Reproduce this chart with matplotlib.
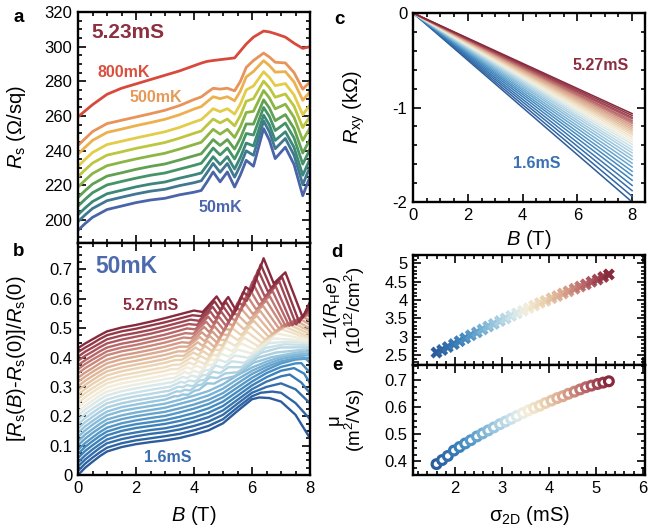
import numpy as np
import matplotlib
matplotlib.use('Agg')
import matplotlib.pyplot as plt
from matplotlib.colors import LinearSegmentedColormap
from matplotlib.ticker import MultipleLocator

plt.rcParams['font.family'] = ['Liberation Sans', 'DejaVu Sans']
plt.rcParams['mathtext.fontset'] = 'custom'
plt.rcParams['mathtext.rm'] = 'Liberation Sans'
plt.rcParams['mathtext.it'] = 'Liberation Sans:italic'
plt.rcParams['mathtext.bf'] = 'Liberation Sans:bold'
plt.rcParams['axes.unicode_minus'] = False

# ---- panel a: Rs(B) at 5.23 mS for several temperatures ----
field_a = [0, 0.25, 0.5, 1, 1.5, 2, 2.5, 3, 3.5, 4, 4.25, 4.45, 4.66, 4.9, 5.15,
           5.4, 5.6, 5.8, 6.05, 6.4, 6.6, 6.8, 7.15, 7.45, 7.75, 8.0]
rs_50mk = [194, 198, 201.5, 206, 208, 210, 211.5, 212.5, 214.5, 216, 217, 222, 227.7, 222,
           227.7, 219, 226, 234.4, 231, 252.7, 246, 235.4, 242, 232, 214, 225]
rs_100mk = [199, 203, 206.6, 211.1, 213.1, 215, 216.6, 217.7, 219.8, 221.5, 222.6, 227.3, 232.6,
            227.5, 232.6, 224.7, 231.6, 239.9, 237.3, 257.1, 250.9, 241.1, 247, 237.4, 220.4, 230.6]
rs_150mk = [203, 207, 210.6, 215.1, 217.1, 219.1, 220.7, 221.9, 224.1, 226, 227.1, 231.6, 236.5,
            232, 236.5, 229.4, 236.1, 244.4, 242.7, 260.5, 254.8, 245.9, 250.9, 241.9, 225.8, 235.2]
rs_200mk = [208, 212, 215.7, 220.2, 222.2, 224.1, 225.8, 227.1, 229.3, 231.5, 232.7, 236.8, 241.5,
            237.5, 241.5, 235.2, 241.7, 249.9, 249, 264.9, 259.7, 251.6, 255.9, 247.3, 232.2, 240.9]
rs_250mk = [213, 217, 220.7, 225.3, 227.2, 229.2, 230.9, 232.3, 234.6, 237, 238.2, 242.1, 246.4,
            243, 246.4, 240.9, 247.2, 255.4, 255.3, 269.3, 264.6, 257.3, 260.8, 252.8, 238.6, 246.5]
rs_300mk = [219, 223, 226.8, 231.3, 233.3, 235.2, 236.9, 238.5, 240.9, 243.5, 244.8, 248.4, 252.3,
            249.5, 252.3, 247.6, 253.8, 262, 262.7, 274.7, 270.4, 264.1, 266.8, 259.2, 245.9, 253.1]
rs_350mk = [225, 229, 232.8, 237.4, 239.3, 241.3, 243, 244.7, 247.2, 250, 251.3, 254.7, 258.2,
            256, 258.2, 254.3, 260.3, 268.5, 270, 280.1, 276.3, 270.8, 272.7, 265.7, 253.3, 259.7]
rs_400mk = [231, 235, 238.9, 243.5, 245.4, 247.3, 249.1, 250.9, 253.4, 256.5, 257.9, 260.9, 264.2,
            262.5, 264.2, 261.1, 266.9, 275, 277.3, 285.5, 282.2, 277.5, 278.7, 272.1, 260.7, 266.4]
rs_450mk = [238, 242, 245.9, 250.5, 252.4, 254.4, 256.2, 258.1, 260.7, 264, 265.4, 268.2, 271.1,
            270, 271.1, 268.8, 274.4, 282.5, 285.7, 291.9, 289.1, 285.3, 285.6, 279.6, 269.1, 274]
rs_500mk = [243, 247, 251, 255.6, 257.5, 259.4, 261.3, 263.3, 266, 269.5, 271, 273.5, 276, 275.5,
            276, 274.5, 280, 288, 292, 296.3, 294, 291, 290.6, 285, 275.5, 279.6]
rs_800mk = [259.5, 263, 266.5, 272.5, 276, 278.5, 281, 283.5, 286, 289, 290.5, 291.5, 292, 292.5,
            293, 293.5, 297.5, 301.5, 305.5, 309, 308.5, 307.5, 305.5, 302, 299, 300]
rs_curves = [rs_50mk, rs_100mk, rs_150mk, rs_200mk, rs_250mk, rs_300mk, rs_350mk,
             rs_400mk, rs_450mk, rs_500mk, rs_800mk]
colors_a = ['#4a64a8', '#3f7890', '#3b8879', '#459366', '#62a052', '#8db544',
            '#bcc63f', '#e3cc48', '#ecb04f', '#e8935a', '#d9493b']

# ---- panel b: normalised MR at 50 mK (31 densities), values in units of 1e-3 ----
b_low_field = [0, 0.25, 0.5, 0.75, 1, 1.5, 2, 2.5, 3]
b_low = [
    [0, 25, 45, 64, 80, 95, 105, 112, 118],
    [14, 39, 59, 77, 93, 108, 118, 125, 132],
    [29, 53, 73, 92, 108, 122, 132, 140, 146],
    [43, 67, 87, 105, 121, 136, 145, 153, 159],
    [58, 82, 101, 119, 135, 150, 160, 167, 174],
    [72, 96, 115, 133, 148, 163, 173, 180, 187],
    [86, 109, 128, 146, 161, 176, 186, 194, 201],
    [101, 124, 143, 160, 176, 190, 200, 208, 215],
    [115, 138, 156, 174, 189, 203, 213, 221, 229],
    [130, 152, 171, 188, 203, 218, 227, 235, 243],
    [144, 166, 184, 201, 216, 231, 240, 249, 257],
    [158, 180, 198, 215, 230, 244, 254, 262, 270],
    [173, 194, 212, 229, 244, 258, 268, 276, 285],
    [187, 208, 226, 242, 257, 271, 281, 290, 298],
    [202, 223, 240, 257, 271, 285, 295, 304, 312],
    [216, 236, 253, 270, 284, 298, 308, 317, 326],
    [230, 250, 267, 283, 298, 312, 321, 330, 340],
    [245, 265, 282, 298, 312, 326, 335, 345, 354],
    [259, 279, 295, 311, 325, 339, 348, 358, 367],
    [274, 293, 310, 325, 339, 353, 363, 372, 382],
    [288, 307, 323, 339, 353, 366, 376, 385, 395],
    [302, 321, 337, 352, 366, 380, 389, 399, 409],
    [317, 335, 351, 366, 380, 394, 403, 413, 423],
    [331, 349, 364, 380, 393, 407, 416, 426, 437],
    [346, 364, 379, 394, 408, 421, 430, 440, 451],
    [360, 378, 393, 407, 421, 434, 443, 454, 465],
    [374, 391, 406, 421, 434, 447, 456, 467, 478],
    [389, 406, 420, 435, 448, 461, 471, 481, 493],
    [403, 420, 434, 448, 462, 475, 484, 494, 506],
    [418, 434, 448, 463, 476, 489, 498, 509, 520],
    [432, 448, 462, 476, 489, 502, 511, 522, 534],
]
b_high_field = [
    [3.5, 4.0, 4.5, 5.0, 5.5, 6.0, 6.25, 6.6, 7.0, 7.5, 8.0],
    [3.5, 4.0, 4.5, 5.0, 5.5, 6.0, 6.3, 6.7, 7.0, 7.5, 8.0],
    [3.5, 4.0, 4.5, 5.0, 5.5, 6.0, 6.5, 7.0, 7.5, 8.0],
    [3.5, 4.0, 4.5, 5.0, 5.5, 6.0, 6.5, 7.0, 7.3, 7.7, 8.0],
    [3.5, 4.0, 4.5, 5.0, 5.5, 6.0, 6.5, 7.0, 7.45, 7.8, 8.0],
    [3.5, 4.0, 4.5, 5.0, 5.5, 6.0, 6.5, 7.0, 7.5, 7.7, 8.0],
    [3.5, 4.0, 4.5, 5.0, 5.5, 6.0, 6.5, 7.0, 7.5, 7.85, 8.0],
    [3.5, 4.0, 4.5, 5.0, 5.5, 6.0, 6.5, 7.0, 7.5, 8.0],
    [3.5, 4.0, 4.5, 5.0, 5.5, 6.0, 6.5, 7.0, 7.5, 8.0],
    [3.5, 4.0, 4.5, 5.0, 5.5, 6.0, 6.5, 7.0, 7.5, 8.0],
    [3.32, 3.45, 3.60, 3.79, 4.02, 4.17, 4.45, 4.69, 4.97, 5.39, 6.05, 6.67, 7.65, 8.0],
    [3.06, 3.40, 3.53, 3.68, 3.87, 4.11, 4.27, 4.55, 4.80, 5.08, 5.51, 6.19, 6.83, 7.82, 8.0],
    [3.12, 3.47, 3.61, 3.76, 3.96, 4.20, 4.36, 4.65, 4.90, 5.19, 5.63, 6.32, 6.97, 8.0],
    [3.19, 3.54, 3.68, 3.84, 4.04, 4.28, 4.45, 4.74, 5.00, 5.30, 5.74, 6.45, 7.11, 8.0],
    [3.02, 3.25, 3.61, 3.76, 3.92, 4.12, 4.37, 4.54, 4.84, 5.10, 5.41, 5.86, 6.58, 7.26, 8.0],
    [3.08, 3.32, 3.69, 3.83, 3.99, 4.20, 4.46, 4.63, 4.93, 5.20, 5.51, 5.98, 6.71, 7.40, 8.0],
    [3.15, 3.38, 3.76, 3.91, 4.08, 4.29, 4.55, 4.72, 5.04, 5.31, 5.63, 6.10, 6.85, 7.56, 8.0],
    [3.21, 3.45, 3.83, 3.99, 4.15, 4.37, 4.64, 4.81, 5.13, 5.41, 5.73, 6.22, 6.98, 7.70, 8.0],
    [3.27, 3.51, 3.91, 4.06, 4.23, 4.45, 4.72, 4.90, 5.23, 5.51, 5.84, 6.33, 7.11, 7.84, 8.0],
    [3.33, 3.58, 3.98, 4.14, 4.31, 4.53, 4.81, 4.99, 5.32, 5.62, 5.95, 6.45, 7.24, 8.0],
    [3.39, 3.65, 4.05, 4.21, 4.39, 4.62, 4.90, 5.09, 5.43, 5.72, 6.06, 6.57, 7.38, 8.0],
    [3.45, 3.71, 4.13, 4.29, 4.47, 4.70, 4.99, 5.18, 5.52, 5.83, 6.17, 6.69, 7.51, 8.0],
    [3.51, 3.78, 4.20, 4.36, 4.55, 4.79, 5.07, 5.27, 5.62, 5.93, 6.28, 6.80, 7.64, 8.0],
    [3.57, 3.84, 4.27, 4.44, 4.63, 4.87, 5.16, 5.36, 5.72, 6.03, 6.38, 6.92, 7.77, 8.0],
    [3.64, 3.91, 4.35, 4.52, 4.71, 4.95, 5.25, 5.45, 5.82, 6.14, 6.50, 7.04, 7.91, 8.0],
    [3.70, 3.97, 4.42, 4.59, 4.79, 5.04, 5.34, 5.54, 5.91, 6.24, 6.61, 7.16, 8.0],
    [3.76, 4.04, 4.49, 4.67, 4.86, 5.12, 5.43, 5.63, 6.01, 6.34, 6.71, 7.28, 8.0],
    [3.82, 4.10, 4.56, 4.74, 4.94, 5.20, 5.51, 5.72, 6.11, 6.44, 6.82, 7.39, 8.0],
    [3.88, 4.17, 4.64, 4.82, 5.02, 5.29, 5.61, 5.82, 6.21, 6.55, 6.94, 7.52, 8.0],
    [3.94, 4.24, 4.71, 4.90, 5.10, 5.37, 5.69, 5.91, 6.30, 6.65, 7.04, 7.63, 8.0],
    [4.0, 4.3, 4.78, 4.97, 5.18, 5.45, 5.78, 6.0, 6.4, 6.75, 7.15, 7.75, 8.0],
]
b_high = [
    [126, 138, 152, 176, 218, 258, 264, 262, 250, 205, 125],
    [140, 152, 167, 190, 230, 268, 280, 284, 280, 245, 190],
    [155, 167, 182, 205, 243, 280, 300, 312, 292, 244],
    [169, 182, 197, 220, 256, 292, 318, 336, 342, 315, 278],
    [184, 196, 212, 235, 270, 305, 333, 355, 364, 345, 312],
    [198, 211, 227, 250, 284, 318, 347, 368, 380, 381, 348],
    [213, 226, 242, 265, 298, 331, 358, 380, 393, 396, 382],
    [227, 240, 256, 279, 312, 344, 368, 387, 397, 398],
    [242, 255, 271, 294, 326, 355, 377, 395, 404, 408],
    [256, 270, 286, 309, 340, 366, 386, 402, 410, 415],
    [268, 268, 274, 273, 287, 290, 312, 311, 326, 336, 382, 401, 419, 421],
    [271, 285, 284, 290, 288, 305, 308, 333, 330, 346, 350, 399, 417, 427, 428],
    [286, 301, 299, 306, 302, 322, 324, 352, 347, 367, 367, 416, 434, 435],
    [301, 317, 314, 322, 318, 339, 341, 373, 365, 387, 382, 432, 445, 442],
    [313, 316, 334, 330, 339, 333, 357, 358, 393, 384, 407, 399, 449, 454, 448],
    [328, 331, 351, 345, 355, 348, 375, 375, 413, 403, 427, 414, 465, 461, 454],
    [344, 346, 367, 361, 372, 364, 392, 392, 434, 422, 448, 427, 482, 468, 460],
    [360, 361, 383, 376, 388, 378, 409, 408, 456, 440, 467, 438, 498, 473, 467],
    [375, 376, 400, 392, 405, 393, 427, 425, 478, 459, 487, 450, 506, 476, 472],
    [391, 392, 417, 408, 422, 407, 444, 441, 500, 477, 506, 461, 514, 479],
    [406, 406, 434, 424, 439, 422, 461, 459, 523, 496, 525, 471, 520, 489],
    [421, 421, 452, 440, 456, 436, 479, 476, 544, 514, 542, 481, 526, 499],
    [437, 437, 470, 456, 473, 451, 497, 494, 567, 532, 559, 490, 532, 512],
    [452, 450, 486, 471, 489, 464, 515, 510, 589, 548, 576, 500, 538, 525],
    [468, 466, 504, 487, 506, 478, 533, 527, 612, 564, 593, 507, 544, 539],
    [483, 481, 522, 502, 523, 492, 551, 544, 634, 579, 609, 507, 552],
    [499, 496, 539, 517, 539, 506, 569, 561, 657, 594, 626, 508, 557],
    [514, 511, 557, 533, 556, 520, 587, 577, 677, 608, 642, 510, 563],
    [529, 525, 573, 548, 572, 534, 605, 593, 698, 624, 659, 513, 570],
    [544, 541, 591, 563, 589, 547, 622, 609, 717, 637, 673, 520, 579],
    [560, 555, 608, 579, 606, 560, 640, 625, 738, 652, 690, 536, 590],
]

# ---- panel c: Hall resistance, straight lines from B=0 to B=8 T ----
field_c = [0.0, 8.0]
rxy_8t = [-2.00, -1.94, -1.88, -1.825, -1.77, -1.72, -1.675, -1.63, -1.59, -1.55,
          -1.515, -1.48, -1.45, -1.42, -1.39, -1.365, -1.34, -1.315, -1.29, -1.27,
          -1.25, -1.23, -1.21, -1.19, -1.17, -1.155, -1.14, -1.12, -1.105, -1.085, -1.065]

# ---- panels d, e ----
sigma_2d = [1.60, 1.72, 1.84, 1.97, 2.09, 2.21, 2.33, 2.46, 2.58, 2.70, 2.82, 2.95, 3.07,
            3.19, 3.31, 3.44, 3.56, 3.68, 3.80, 3.92, 4.05, 4.17, 4.29, 4.41, 4.54, 4.66,
            4.78, 4.90, 5.03, 5.15, 5.27]
density = [2.57, 2.64, 2.72, 2.80, 2.88, 2.96, 3.04, 3.12, 3.20, 3.28, 3.35, 3.43, 3.50,
           3.57, 3.64, 3.71, 3.78, 3.85, 3.92, 3.98, 4.05, 4.11, 4.18, 4.24, 4.31, 4.37,
           4.43, 4.50, 4.56, 4.63, 4.70]
mobility = [0.39, 0.405, 0.42, 0.44, 0.453, 0.466, 0.478, 0.492, 0.503, 0.514, 0.525,
            0.537, 0.547, 0.557, 0.567, 0.578, 0.588, 0.597, 0.605, 0.615, 0.624, 0.633,
            0.640, 0.649, 0.657, 0.665, 0.673, 0.679, 0.685, 0.69, 0.695]

cmap = LinearSegmentedColormap.from_list('sig', [
    (0.0, '#2c5c9c'), (0.15, '#3f86bd'), (0.3, '#86bcd9'), (0.45, '#d2e6ea'),
    (0.52, '#f4efdf'), (0.62, '#ecd6b4'), (0.75, '#d9a48c'), (0.88, '#b45f65'),
    (1.0, '#882a3d')])
sig = np.array(sigma_2d)
colors_s = cmap((sig - sig.min()) / (sig.max() - sig.min()))


def style(ax, xmaj, xmin, ymaj, ymin):
    ax.xaxis.set_major_locator(MultipleLocator(xmaj))
    ax.xaxis.set_minor_locator(MultipleLocator(xmin))
    ax.yaxis.set_major_locator(MultipleLocator(ymaj))
    ax.yaxis.set_minor_locator(MultipleLocator(ymin))
    ax.tick_params(which='both', direction='in', top=True, right=True,
                   width=1.2, labelsize=12, pad=4)
    ax.tick_params(which='major', length=5.5)
    ax.tick_params(which='minor', length=3)
    for sp in ax.spines.values():
        sp.set_linewidth(1.7)


fig = plt.figure(figsize=(6.6, 5.31), dpi=100)
ax_a = fig.add_axes([0.1182, 0.5424, 0.3515, 0.4350])
ax_b = fig.add_axes([0.1182, 0.1055, 0.3515, 0.4369])
ax_c = fig.add_axes([0.6258, 0.6196, 0.3515, 0.3559])
ax_d = fig.add_axes([0.6258, 0.3126, 0.3515, 0.2072])
ax_e = fig.add_axes([0.6258, 0.1055, 0.3515, 0.2072])

# a
for rs, col in zip(rs_curves, colors_a):
    ax_a.plot(field_a, rs, color=col, lw=2.0, solid_joinstyle='round')
ax_a.set_xlim(0, 8)
ax_a.set_ylim(186.7, 320)
style(ax_a, 2, 0.5, 20, 5)
ax_a.set_xticklabels([])
ax_a.set_ylabel(r'$R_\mathrm{s}$ (Ω/sq)', fontsize=14.5)
ax_a.yaxis.set_label_coords(-0.215, 0.5)
ax_a.text(1.72, 308.3, '5.23mS', color='#8e2f3f', fontsize=15, fontweight='bold',
          ha='center', va='center')
ax_a.text(1.59, 285.2, '800mK', color='#d9503e', fontsize=11.5, fontweight='bold',
          ha='center', va='center')
ax_a.text(2.69, 270.8, '500mK', color='#e69a58', fontsize=11.5, fontweight='bold',
          ha='center', va='center')
ax_a.text(4.9, 207.3, '50mK', color='#4a67ad', fontsize=11.5, fontweight='bold',
          ha='center', va='center')

# b
for k in range(len(b_low)):
    bb = list(b_low_field) + list(b_high_field[k])
    yy = np.array(list(b_low[k]) + list(b_high[k])) / 1000.0
    ax_b.plot(bb, yy, color=colors_s[k], lw=1.7, solid_joinstyle='round')
ax_b.set_xlim(0, 8)
ax_b.set_ylim(0, 0.79)
style(ax_b, 2, 0.5, 0.1, 0.025)
ax_b.set_yticks([0, 0.1, 0.2, 0.3, 0.4, 0.5, 0.6, 0.7])
ax_b.set_yticklabels(['0', '0.1', '0.2', '0.3', '0.4', '0.5', '0.6', '0.7'])
ax_b.set_ylabel(r'[$R_\mathrm{s}$($B$)-$R_\mathrm{s}$(0)]/$R_\mathrm{s}$(0)', fontsize=14.5)
ax_b.yaxis.set_label_coords(-0.215, 0.5)
ax_b.set_xlabel(r'$B$ (T)', fontsize=14.5)
ax_b.xaxis.set_label_coords(0.5, -0.125)
ax_b.text(1.66, 0.711, '50mK', color='#4d6aac', fontsize=16.5, fontweight='bold',
          ha='center', va='center')
ax_b.text(2.52, 0.578, '5.27mS', color='#8b2d3e', fontsize=11.5, fontweight='bold',
          ha='center', va='center')
ax_b.text(3.1, 0.058, '1.6mS', color='#3a6db0', fontsize=11.5, fontweight='bold',
          ha='center', va='center')

# c
for k, r in enumerate(rxy_8t):
    ax_c.plot(field_c, [0.0, r], color=colors_s[k], lw=1.1)
ax_c.set_xlim(0, 8.47)
ax_c.set_ylim(-2, 0)
style(ax_c, 2, 0.5, 1, 0.2)
ax_c.set_xticks([0, 2, 4, 6, 8])
ax_c.set_ylabel(r'$R_\mathrm{xy}$ (kΩ)', fontsize=14.5)
ax_c.yaxis.set_label_coords(-0.2, 0.5)
ax_c.set_xlabel(r'$B$ (T)', fontsize=14.5)
ax_c.xaxis.set_label_coords(0.5, -0.135)
ax_c.text(6.86, -0.56, '5.27mS', color='#8b2d3e', fontsize=11.5, fontweight='bold',
          ha='center', va='center')
ax_c.text(4.53, -1.59, '1.6mS', color='#3b70b3', fontsize=11.5, fontweight='bold',
          ha='center', va='center')

# d
ax_d.scatter(sigma_2d, density, c=colors_s, marker='X', s=75, linewidths=0, zorder=3)
ax_d.set_xlim(1.1, 6.04)
ax_d.set_ylim(2.23, 5.23)
style(ax_d, 1, 0.2, 0.5, 0.1)
ax_d.set_xticklabels([])
ax_d.set_yticks([2.5, 3, 3.5, 4, 4.5, 5])
ax_d.set_yticklabels(['2.5', '3', '3.5', '4', '4.5', '5'])
ax_d.set_ylabel('-1/($R_\\mathrm{H}e$)\n(10$^{12}$/cm$^2$)', fontsize=13.5, linespacing=1.0)
ax_d.yaxis.set_label_coords(-0.2, 0.5)

# e
ax_e.scatter(sigma_2d, mobility, facecolors='white', edgecolors=colors_s, marker='o',
             s=40, linewidths=2.3, zorder=3)
ax_e.set_xlim(1.1, 6.04)
ax_e.set_ylim(0.35, 0.755)
style(ax_e, 1, 0.2, 0.1, 0.025)
ax_e.set_xticks([2, 3, 4, 5, 6])
ax_e.set_yticks([0.4, 0.5, 0.6, 0.7])
ax_e.set_yticklabels(['0.4', '0.5', '0.6', '0.7'])
ax_e.set_ylabel('μ\n(m$^2$/Vs)', fontsize=13.5, linespacing=1.0)
ax_e.yaxis.set_label_coords(-0.2, 0.5)
ax_e.set_xlabel(r'σ$_\mathrm{2D}$ (mS)', fontsize=14.5)
ax_e.xaxis.set_label_coords(0.5, -0.265)

# panel letters
for lab, x, y in [('a', 19, 18), ('b', 19, 251), ('c', 339, 19), ('d', 337, 252), ('e', 337, 366)]:
    fig.text(x / 660, 1 - y / 531, lab, fontsize=13.5, fontweight='bold',
             ha='center', va='center')

fig.savefig('out.png', dpi=100)
